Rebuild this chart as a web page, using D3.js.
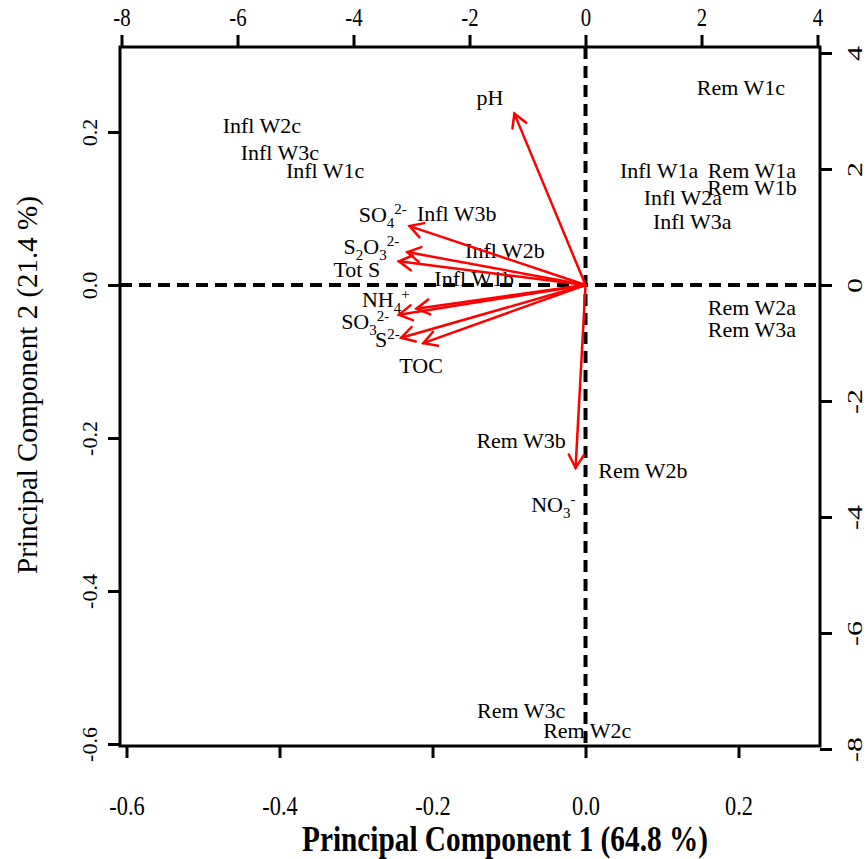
<!DOCTYPE html>
<html>
<head>
<meta charset="utf-8">
<script src="https://cdn.jsdelivr.net/npm/d3@7"></script>
<style>
body { margin: 0; background: #fff; }
svg text { font-family: "Liberation Serif", "DejaVu Serif", serif; fill: #000; }
</style>
</head>
<body>
<svg width="866" height="859"></svg>
<script>
/* PCA biplot: sample scores (top/right axes) + variable loadings (bottom/left axes) */

// sample scores
var sampleNames = ["Rem W1c", "Infl W2c", "Infl W3c", "Infl W1c", "Infl W1a", "Rem W1a",
	"Rem W1b", "Infl W2a", "Infl W3a", "Rem W2a", "Rem W3a", "Infl W3b", "Infl W2b",
	"Infl W1b", "Rem W3b", "Rem W2b", "Rem W3c", "Rem W2c"];
var scorePC1 = [2.68, -5.58, -5.27, -4.49, 1.27, 2.87, 2.87, 1.68, 1.84, 2.87, 2.87,
	-2.22, -1.39, -1.92, -1.11, 0.99, -1.11, 0.03];
var scorePC2 = [3.41, 2.76, 2.29, 1.97, 1.98, 1.98, 1.69, 1.52, 1.09, -0.38, -0.76,
	1.24, 0.60, 0.12, -2.67, -3.19, -7.33, -7.67];

// variable loadings (arrow tips)
var varNames = ["pH", "SO4", "S2O3", "TotS", "NH4", "SO3", "S", "TOC", "NO3"];
var loadPC1 = [-0.093, -0.230, -0.233, -0.244, -0.221, -0.244, -0.241, -0.212, -0.013];
var loadPC2 = [0.224, 0.077, 0.043, 0.031, -0.031, -0.039, -0.069, -0.076, -0.239];
// where each variable label sits (loading units)
var labelPC1 = [-0.125, -0.265, -0.280, -0.299, -0.261, -0.288, -0.259, -0.215, -0.042];
var labelPC2 = [0.244, 0.0915, 0.0497, 0.0196, -0.0196, -0.048, -0.072, -0.106, -0.288];
// label text pieces: [text, "", "sub" or "sup"]
var varLabels = [
	[["pH", ""]],
	[["SO", ""], ["4", "sub"], ["2-", "sup"]],
	[["S", ""], ["2", "sub"], ["O", ""], ["3", "sub"], ["2-", "sup"]],
	[["Tot S", ""]],
	[["NH", ""], ["4", "sub"], ["+", "sup"]],
	[["SO", ""], ["3", "sub"], ["2-", "sup"]],
	[["S", ""], ["2-", "sup"]],
	[["TOC", ""]],
	[["NO", ""], ["3", "sub"], ["-", "sup"]]
];

var loadTicks = [-0.6, -0.4, -0.2, 0.0, 0.2];
var scoreTicks = [-8, -6, -4, -2, 0, 2, 4];

var svg = d3.select("svg");
var boxL = 120, boxR = 820, boxT = 47, boxB = 746;

var xL = d3.scaleLinear().domain([-0.6085, 0.3065]).range([boxL, boxR]);
var yL = d3.scaleLinear().domain([-0.6026, 0.3111]).range([boxB, boxT]);
var xS = d3.scaleLinear().domain([-8.026, 4.043]).range([boxL, boxR]);
var yS = d3.scaleLinear().domain([-7.948, 4.103]).range([boxB, boxT]);

// dashed zero lines
svg.append("line")
	.attr("x1", boxL).attr("x2", boxR)
	.attr("y1", yL(0)).attr("y2", yL(0))
	.attr("stroke", "#000").attr("stroke-width", 4)
	.attr("stroke-dasharray", "12,7");
svg.append("line")
	.attr("x1", xL(0)).attr("x2", xL(0))
	.attr("y1", boxT).attr("y2", boxB)
	.attr("stroke", "#000").attr("stroke-width", 4)
	.attr("stroke-dasharray", "12,7");

// sample labels
svg.append("g")
	.selectAll("text")
	.data(sampleNames)
	.enter().append("text")
	.attr("x", function(d, i) { return xS(scorePC1[i]); })
	.attr("y", function(d, i) { return yS(scorePC2[i]); })
	.attr("dy", "0.35em")
	.attr("text-anchor", "middle")
	.style("font-size", "22px")
	.text(function(d) { return d; });

// arrows
var arrows = svg.append("g")
	.attr("stroke", "#ff0000")
	.attr("stroke-width", 2.5)
	.attr("fill", "none")
	.attr("stroke-linecap", "round");

arrows.selectAll("line")
	.data(varNames)
	.enter().append("line")
	.attr("x1", xL(0)).attr("y1", yL(0))
	.attr("x2", function(d, i) { return xL(loadPC1[i]); })
	.attr("y2", function(d, i) { return yL(loadPC2[i]); });

arrows.selectAll("path")
	.data(varNames)
	.enter().append("path")
	.attr("d", function(d, i) { return head_path(loadPC1[i], loadPC2[i]); });

function head_path(lx, ly) {
	var x0 = xL(0), y0 = yL(0), x1 = xL(lx), y1 = yL(ly);
	var a = Math.atan2(y1 - y0, x1 - x0);
	var h = 15, w = Math.PI / 6;
	return "M" + (x1 - h * Math.cos(a - w)) + "," + (y1 - h * Math.sin(a - w))
		+ "L" + x1 + "," + y1
		+ "L" + (x1 - h * Math.cos(a + w)) + "," + (y1 - h * Math.sin(a + w));
}

// variable labels with sub/superscripts
var vlab = svg.append("g")
	.selectAll("text")
	.data(varLabels)
	.enter().append("text")
	.attr("x", function(d, i) { return xL(labelPC1[i]); })
	.attr("y", function(d, i) { return yL(labelPC2[i]) + 7; })
	.attr("text-anchor", "middle")
	.style("font-size", "22px");

vlab.each(function(parts) {
	var t = d3.select(this);
	var shift = 0;
	for (var k = 0; k < parts.length; k++) {
		var p = parts[k];
		var span = t.append("tspan").text(p[0]);
		var target = 0;
		if (p[1] == "sub") { target = 6; span.style("font-size", "15px"); }
		else if (p[1] == "sup") { target = -8; span.style("font-size", "15px"); }
		if (target != shift) { span.attr("dy", target - shift); shift = target; }
	}
});

// box
svg.append("rect")
	.attr("x", boxL).attr("y", boxT)
	.attr("width", boxR - boxL).attr("height", boxB - boxT)
	.attr("fill", "none").attr("stroke", "#000").attr("stroke-width", 3);

// axes
function style_axis(g) {
	g.select(".domain").remove();
	g.selectAll(".tick line").attr("stroke", "#000").attr("stroke-width", 3);
	g.selectAll(".tick text").attr("fill", "#000").style("font-family", null);
	g.attr("font-family", null);
}

// plain hyphen for negatives, like the original
var fmtL = function(d) { return d.toFixed(1); };
var fmtS = function(d) { return String(d); };

var gB = svg.append("g")
	.attr("transform", "translate(0," + boxB + ")")
	.call(d3.axisBottom(xL).tickValues(loadTicks).tickFormat(fmtL).tickSize(12))
	.call(style_axis);
gB.selectAll(".tick text")
	.attr("y", 0).attr("dy", 0)
	.attr("transform", "translate(0,69) scale(0.8,1)")
	.style("font-size", "28px");

var gT = svg.append("g")
	.attr("transform", "translate(0," + boxT + ")")
	.call(d3.axisTop(xS).tickValues(scoreTicks).tickFormat(fmtS).tickSize(12))
	.call(style_axis);
gT.selectAll(".tick text")
	.attr("y", 0).attr("dy", 0)
	.attr("transform", "translate(0,-21) scale(0.8,1)")
	.style("font-size", "26px");

var gL = svg.append("g")
	.attr("transform", "translate(" + boxL + ",0)")
	.call(d3.axisLeft(yL).tickValues(loadTicks).tickFormat(fmtL).tickSize(12))
	.call(style_axis);
gL.selectAll(".tick text")
	.attr("x", 0).attr("y", 0).attr("dy", 0)
	.attr("text-anchor", "middle")
	.attr("transform", "translate(-23,0) rotate(-90)")
	.style("font-size", "22px");

var gR = svg.append("g")
	.attr("transform", "translate(" + boxR + ",0)")
	.call(d3.axisRight(yS).tickValues(scoreTicks).tickFormat(fmtS).tickSize(12))
	.call(style_axis);
gR.selectAll(".tick text")
	.attr("x", 0).attr("y", 0).attr("dy", 0)
	.attr("text-anchor", "middle")
	.attr("transform", "translate(42,0) rotate(-90) scale(1.5,1)")
	.style("font-size", "20px");

// axis titles
svg.append("text")
	.attr("x", 302).attr("y", 851)
	.attr("textLength", 406)
	.attr("lengthAdjust", "spacingAndGlyphs")
	.style("font-size", "35px")
	.style("font-weight", "bold")
	.text("Principal Component 1 (64.8 %)");

svg.append("text")
	.attr("transform", "translate(37,385) rotate(-90)")
	.attr("text-anchor", "middle")
	.style("font-size", "29px")
	.text("Principal Component 2 (21.4 %)");
</script>
</body>
</html>
